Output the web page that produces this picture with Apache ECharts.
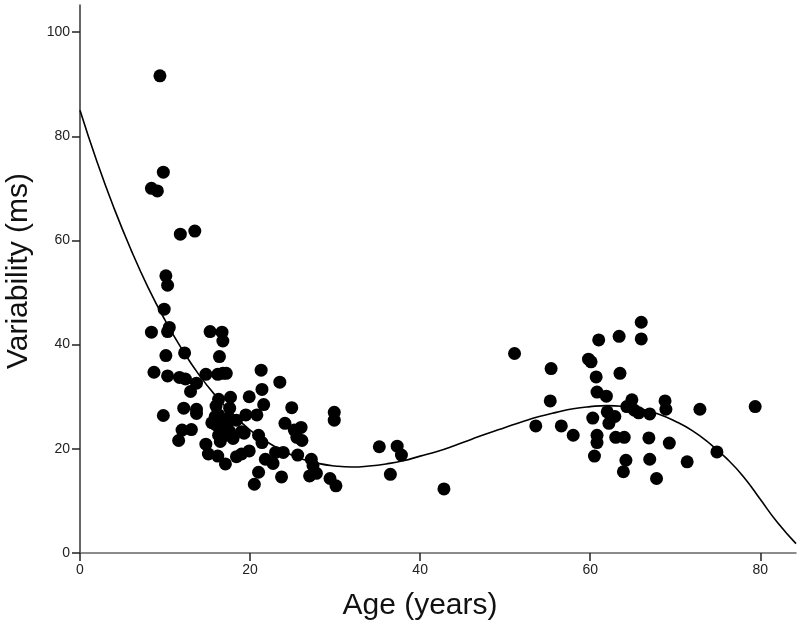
<!DOCTYPE html>
<html>
<head>
<meta charset="utf-8">
<script src="https://cdn.jsdelivr.net/npm/echarts@6/dist/echarts.min.js"></script>
<style>
html,body{margin:0;padding:0;background:#fff;}
#chart{width:800px;height:625px;}
</style>
</head>
<body>
<div id="chart"></div>
<script>
// Observed data points: age (years) and variability (ms)
var ageValues = [
  9.4, 9.8, 8.4, 9.1, 11.8, 13.5, 10.1, 10.3, 9.9, 8.4,
  10.3, 10.5, 15.3, 16.7, 16.8, 10.1, 12.3, 16.4, 8.7, 10.3,
  11.7, 12.4, 14.8, 16.2, 16.8, 17.2, 21.3, 13.7, 13.0, 21.4,
  23.5, 17.7, 19.9, 9.8, 12.2, 13.7, 13.7, 21.6, 19.5, 20.8,
  12.0, 13.1, 11.6, 16.3, 16.0, 24.9, 29.9, 29.9, 17.6, 24.1,
  25.2, 26.0, 25.5, 26.1, 21.0, 21.4, 14.8, 15.1, 16.2, 17.1,
  18.4, 19.0, 19.9, 21.8, 22.7, 23.0, 23.9, 25.6, 27.2, 27.4,
  27.8, 27.0, 29.4, 30.1, 21.0, 23.7, 20.5,
  15.9, 16.3, 16.7, 16.0, 16.7, 17.3, 16.3, 17.1, 16.5, 17.6,
  18.4, 19.0, 19.3, 15.5, 17.5, 18.0,
  35.2, 37.3, 37.8, 36.5, 42.8,
  51.1, 55.4, 55.3, 53.6, 56.6, 58.0, 59.8, 60.1, 61.0, 63.4,
  66.0, 66.0, 60.7, 63.5, 60.8, 61.9, 64.9, 64.3, 65.2, 65.7,
  67.0, 68.8, 68.9, 60.3, 62.0, 62.9, 62.2, 60.8, 60.8, 63.0,
  64.0, 66.9, 69.3, 60.5, 64.2, 63.9, 67.0, 67.8, 72.9, 79.4,
  71.4, 74.9
];
var variabilityValues = [
  91.6, 73.1, 70.0, 69.5, 61.2, 61.8, 53.2, 51.4, 46.8, 42.4,
  42.5, 43.3, 42.5, 42.4, 40.7, 37.9, 38.4, 37.7, 34.7, 34.0,
  33.7, 33.4, 34.3, 34.3, 34.5, 34.5, 35.1, 32.6, 31.0, 31.4,
  32.8, 29.9, 30.0, 26.4, 27.8, 27.6, 26.8, 28.5, 26.5, 26.5,
  23.6, 23.7, 21.6, 29.5, 28.2, 27.9, 27.0, 25.5, 27.8, 24.9,
  23.6, 24.1, 22.2, 21.6, 22.6, 21.2, 20.9, 19.0, 18.6, 17.1,
  18.5, 19.0, 19.6, 18.0, 17.2, 19.3, 19.3, 18.8, 18.0, 16.8,
  15.3, 14.8, 14.3, 12.9, 15.5, 14.6, 13.2,
  26.2, 26.5, 25.5, 24.6, 23.9, 24.2, 22.6, 22.6, 21.4, 23.3,
  25.5, 23.3, 23.0, 25.0, 26.0, 22.0,
  20.4, 20.5, 18.8, 15.1, 12.3,
  38.3, 35.4, 29.2, 24.4, 24.4, 22.6, 37.2, 36.7, 40.9, 41.6,
  44.3, 41.1, 33.8, 34.5, 30.9, 30.1, 29.4, 28.1, 27.4, 26.9,
  26.7, 29.2, 27.6, 25.9, 27.1, 26.2, 24.9, 22.6, 21.2, 22.2,
  22.2, 22.1, 21.1, 18.6, 17.8, 15.6, 18.0, 14.3, 27.6, 28.1,
  17.5, 19.4
];

// Fitted curve
var fitAge = [0, 2, 4, 6, 8, 10, 12, 14, 16, 18, 20, 22, 24, 26, 28, 30, 32, 34, 36, 38, 40,
  42, 44, 46, 48, 50, 52, 54, 56, 58, 60, 62, 64, 66, 68, 70, 72, 74, 76, 78, 80, 82, 84.2];
var fitValues = [85.0, 75.1, 66.2, 58.2, 51.0, 44.7, 39.1, 34.2, 30.1, 26.6, 23.6, 21.3, 19.5, 18.1, 17.2, 16.7, 16.5, 16.7, 17.1, 17.7, 18.6,
  19.5, 20.6, 21.8, 23.0, 24.1, 25.2, 26.2, 27.0, 27.7, 28.1, 28.3, 28.1, 27.6, 26.7, 25.3, 23.5, 21.1, 18.2, 14.7, 10.3, 5.9, 1.8];

var xTicks = [0, 20, 40, 60, 80];
var yTicks = [0, 20, 40, 60, 80, 100];

var scatterData = ageValues.map(function (a, i) { return [a, variabilityValues[i]]; });
var fitData = fitAge.map(function (a, i) { return [a, fitValues[i]]; });

var chart = echarts.init(document.getElementById('chart'), null, {renderer: 'canvas'});
var font = 'Liberation Sans, Arial, Helvetica, sans-serif';
chart.setOption({
  animation: false,
  backgroundColor: '#ffffff',
  grid: {left: 80, top: 5, right: 4, bottom: 72, containLabel: false, outerBoundsMode: 'none'},
  xAxis: {
    type: 'value', min: 0, max: 84.2, interval: 20,
    name: 'Age (years)', nameLocation: 'middle', nameGap: 38,
    nameTextStyle: {fontSize: 30, color: '#111', fontFamily: font, padding: [0, 36, 0, 0]},
    axisLine: {show: true, onZero: false, lineStyle: {color: '#666', width: 1.5}},
    axisTick: {show: true, length: 8, customValues: xTicks, lineStyle: {color: '#222', width: 1.5}},
    axisLabel: {customValues: xTicks, fontSize: 14, color: '#222', fontFamily: font, margin: 10},
    splitLine: {show: false}
  },
  yAxis: {
    type: 'value', min: 0, max: 105.2, interval: 20,
    name: 'Variability (ms)', nameLocation: 'middle', nameGap: 46,
    nameTextStyle: {fontSize: 30, color: '#111', fontFamily: font, padding: [0, 0, 0, 16]},
    axisLine: {show: true, onZero: false, lineStyle: {color: '#333', width: 1.5}},
    axisTick: {show: true, length: 8, customValues: yTicks, lineStyle: {color: '#222', width: 1.5}},
    axisLabel: {customValues: yTicks, fontSize: 14, color: '#222', fontFamily: font, margin: 10},
    splitLine: {show: false}
  },
  series: [
    {
      type: 'scatter',
      data: scatterData,
      symbol: 'circle',
      symbolSize: 13,
      itemStyle: {color: '#000', opacity: 1},
      z: 2
    },
    {
      type: 'line',
      data: fitData,
      smooth: true,
      showSymbol: false,
      symbol: 'none',
      lineStyle: {color: '#000', width: 1.6},
      z: 3
    }
  ]
});
</script>
</body>
</html>
